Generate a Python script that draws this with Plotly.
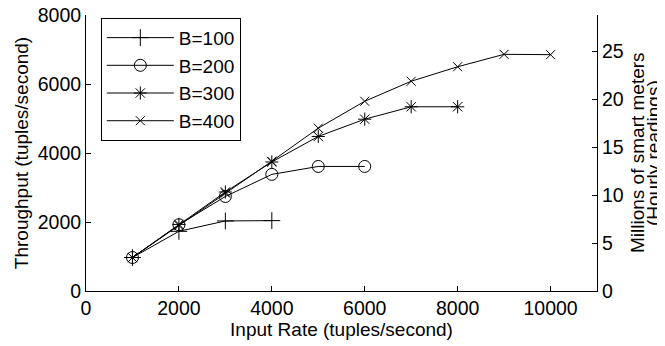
import plotly.graph_objects as go

# Data
x_b100 = [1000, 2000, 3000, 4000]
y_b100 = [970, 1730, 2030, 2040]

x_b200 = [1000, 2000, 3000, 4000, 5000, 6000]
y_b200 = [970, 1920, 2740, 3380, 3610, 3610]

x_b300 = [1000, 2000, 3000, 4000, 5000, 6000, 7000, 8000]
y_b300 = [970, 1930, 2870, 3740, 4480, 4980, 5340, 5340]

x_b400 = [1000, 2000, 3000, 4000, 5000, 6000, 7000, 8000, 9000, 10000]
y_b400 = [970, 1900, 2840, 3760, 4720, 5500, 6080, 6500, 6860, 6850]

x_ticks = [0, 2000, 4000, 6000, 8000, 10000]
y_ticks = [0, 2000, 4000, 6000, 8000]
y2_ticks = [0, 5, 10, 15, 20, 25]

right_title_lines = ["Millions of smart meters", "(Hourly readings)"]

FONT = "Liberation Sans"
FS_TICK = 19.5
FS_TITLE = 19
series = [
    ("B=100", x_b100, y_b100, "cross-thin-open", 12),
    ("B=200", x_b200, y_b200, "circle-open", 12),
    ("B=300", x_b300, y_b300, "asterisk-open", 11),
    ("B=400", x_b400, y_b400, "x-thin-open", 9),
]

fig = go.Figure()
for name, xs, ys, sym, sz in series:
    fig.add_trace(go.Scatter(
        x=xs, y=ys, name=name, mode="lines+markers",
        line=dict(color="black", width=1),
        marker=dict(symbol=sym, size=sz, color="black",
                    line=dict(color="black", width=1)),
    ))

# invisible trace on the secondary axis (throughput * 3600 s / 1e6 meters)
fig.add_trace(go.Scatter(
    x=x_b400, y=[v * 3600 / 1e6 for v in y_b400], yaxis="y2",
    mode="lines", line=dict(width=0), opacity=0, showlegend=False,
    hoverinfo="skip",
))

axis_common = dict(
    showgrid=False, zeroline=False, showline=True, linecolor="black",
    linewidth=1, ticks="inside", ticklen=5, tickcolor="black",
    tickfont=dict(family=FONT, size=FS_TICK, color="black"), automargin=False,
    ticklabeloverflow="allow",
)

# figure sized so that it fits the 665x346 window after the page's 8px body margin
fig.update_layout(
    width=657, height=338,
    margin=dict(l=78, r=68, t=7, b=55),
    paper_bgcolor="white", plot_bgcolor="white",
    font=dict(family=FONT, size=FS_TITLE, color="black"),
    xaxis=dict(range=[0, 11000], tickvals=x_ticks,
               ticktext=[str(v) for v in x_ticks],
               title=dict(text="Input Rate (tuples/second)", standoff=2,
                          font=dict(family=FONT, size=FS_TITLE)),
               **axis_common),
    yaxis=dict(range=[0, 8000], tickvals=y_ticks,
               ticktext=[str(v) for v in y_ticks],
               title=dict(text="Throughput (tuples/second)", standoff=4,
                          font=dict(family=FONT, size=FS_TITLE)),
               **axis_common),
    yaxis2=dict(range=[0, 28.8], tickvals=y2_ticks, overlaying="y",
                side="right", **axis_common),
    legend=dict(x=0.029, y=0.99, xanchor="left", yanchor="top",
                bgcolor="white", bordercolor="black", borderwidth=1,
                font=dict(family=FONT, size=FS_TITLE), tracegroupgap=0,
                itemwidth=67),
    showlegend=True,
)

# right axis title, two tightly spaced lines
for i, line in enumerate(right_title_lines):
    fig.add_annotation(
        text=line, xref="paper", yref="paper", x=1, y=0.5,
        xanchor="center", yanchor="middle", xshift=40 + 16 * i,
        textangle=-90, showarrow=False,
        font=dict(family=FONT, size=FS_TITLE, color="black"),
    )

fig.write_html("out.html")
